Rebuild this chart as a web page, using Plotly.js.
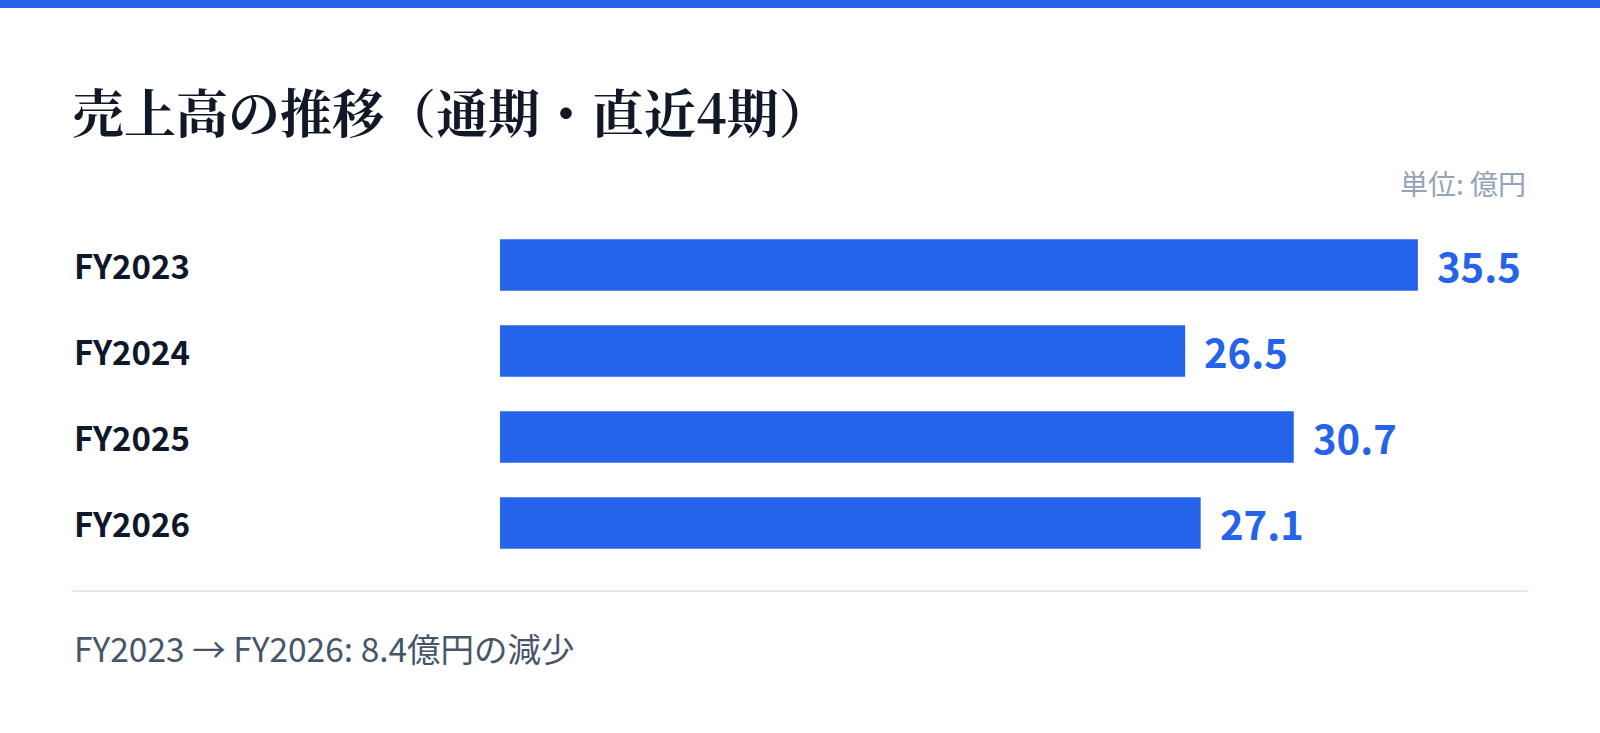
<!DOCTYPE html>
<html>
<head>
<meta charset="utf-8">
<script src="https://cdn.plot.ly/plotly-3.0.1.min.js"></script>
<style>
html,body{margin:0;padding:0;background:#ffffff;}
#chart{width:1600px;height:733px;}
</style>
</head>
<body>
<div id="chart"></div>
<script>
const categories = ["FY2023", "FY2024", "FY2025", "FY2026"];
const sales = [35.5, 26.5, 30.7, 27.1];
const chartTitle = "売上高の推移（通期・直近4期）";
const unitLabel = "単位: 億円";
const footerText = "FY2023 → FY2026: 8.4億円の減少";

const W = 1600, H = 733;
const L = 500, R = 72, T = 222, B = 167;
const pw = W - L - R, ph = H - T - B;
const px = v => (v - L) / pw;
const py = v => (H - B - v) / ph;

const sans = "'Noto Sans CJK JP', 'Noto Sans', sans-serif";
const serif = "'Noto Serif CJK JP', 'Noto Sans CJK JP', serif";
const blue = "#2563eb";

const trace = {
  type: "bar",
  orientation: "h",
  x: sales,
  y: categories,
  marker: {color: blue},
  hoverinfo: "skip"
};

const annotations = [];
categories.forEach((c, i) => {
  annotations.push({
    xref: "paper", yref: "y", x: px(72), y: c,
    xanchor: "left", yanchor: "middle",
    text: c, showarrow: false,
    font: {family: sans, size: 33, color: "#0f172a", weight: 700}
  });
  annotations.push({
    xref: "x", yref: "y", x: sales[i], y: c,
    xanchor: "left", yanchor: "middle", xshift: 17,
    text: sales[i].toFixed(1), showarrow: false,
    font: {family: sans, size: 40, color: blue, weight: 700}
  });
});
annotations.push({
  xref: "paper", yref: "paper", x: 1, y: py(183),
  xanchor: "right", yanchor: "middle",
  text: unitLabel, showarrow: false,
  font: {family: sans, size: 28, color: "#94a3b8"}
});
annotations.push({
  xref: "paper", yref: "paper", x: px(72), y: py(647),
  xanchor: "left", yanchor: "middle",
  text: footerText, showarrow: false,
  font: {family: sans, size: 33.5, color: "#475569"}
});

const layout = {
  width: W, height: H,
  margin: {l: L, r: R, t: T, b: B, pad: 0},
  paper_bgcolor: "#ffffff",
  plot_bgcolor: "#ffffff",
  showlegend: false,
  bargap: 0.4,
  title: {
    text: "<b>" + chartTitle + "</b>",
    xref: "container", yref: "container",
    x: 72 / W, xanchor: "left",
    y: 1 - 115 / H, yanchor: "middle",
    font: {family: serif, size: 52, color: "#111827"}
  },
  xaxis: {
    range: [0, Math.max(...sales) * 1.12],
    showgrid: false, zeroline: false, showticklabels: false, showline: false, fixedrange: true
  },
  yaxis: {
    autorange: "reversed",
    showgrid: false, zeroline: false, showticklabels: false, showline: false, fixedrange: true
  },
  annotations: annotations,
  shapes: [
    {type: "rect", xref: "paper", yref: "paper", x0: px(0), x1: px(W), y0: py(8), y1: py(0),
     fillcolor: blue, line: {width: 0}, layer: "above"},
    {type: "line", xref: "paper", yref: "paper", x0: px(72), x1: 1, y0: py(591), y1: py(591),
     line: {color: "#e2e8f0", width: 2}}
  ]
};

Plotly.newPlot("chart", [trace], layout, {displayModeBar: false, staticPlot: true});
</script>
</body>
</html>
